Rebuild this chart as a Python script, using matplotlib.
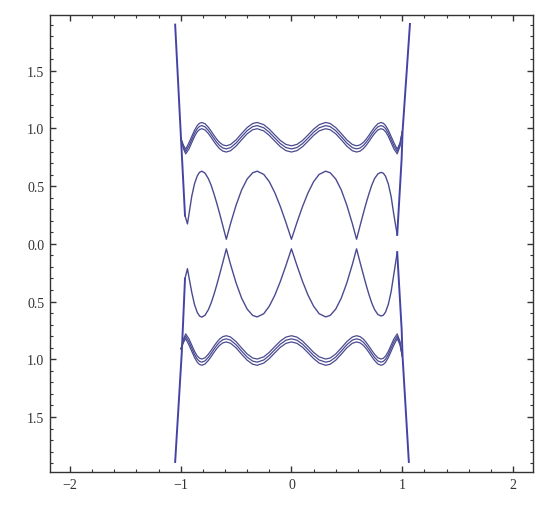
import matplotlib
matplotlib.use("Agg")
import matplotlib.pyplot as plt
from matplotlib.ticker import MultipleLocator, FixedLocator, FixedFormatter

# curve values
mid_x = [-0.961, -0.939, -0.925, -0.9, -0.875, -0.85, -0.83, -0.809, -0.78, -0.75,
         -0.725, -0.7, -0.675, -0.65, -0.62, -0.588,
         -0.55, -0.5, -0.45, -0.4, -0.35, -0.309, -0.25, -0.2, -0.15, -0.1,
         -0.05, 0.0, 0.05, 0.1, 0.15, 0.2, 0.25, 0.309, 0.35, 0.4,
         0.45, 0.5, 0.55,
         0.588, 0.62, 0.65, 0.675, 0.7, 0.725, 0.75, 0.78, 0.809, 0.83,
         0.85, 0.875, 0.9, 0.925, 0.955]
mid_up = [0.245, 0.173, 0.258, 0.413, 0.522, 0.590, 0.620, 0.630, 0.613, 0.565,
          0.508, 0.435, 0.355, 0.268, 0.159, 0.040,
          0.175, 0.335, 0.467, 0.562, 0.616, 0.630, 0.602, 0.539, 0.443, 0.323,
          0.186, 0.040, 0.186, 0.323, 0.443, 0.539, 0.602, 0.630, 0.616, 0.562,
          0.467, 0.335, 0.175,
          0.040, 0.159, 0.268, 0.355, 0.435, 0.508, 0.565, 0.606, 0.620, 0.612,
          0.585, 0.518, 0.410, 0.250, 0.078]
mid_dn = [-0.300, -0.215, -0.290, -0.420, -0.527, -0.595, -0.625, -0.635, -0.618, -0.570,
          -0.512, -0.440, -0.358, -0.270, -0.162, -0.043,
          -0.178, -0.338, -0.470, -0.565, -0.620, -0.633, -0.605, -0.540, -0.445, -0.325,
          -0.188, -0.043, -0.188, -0.325, -0.445, -0.540, -0.605, -0.633, -0.620, -0.565,
          -0.470, -0.338, -0.178,
          -0.043, -0.162, -0.270, -0.358, -0.440, -0.512, -0.568, -0.612, -0.625, -0.618,
          -0.590, -0.523, -0.415, -0.260, -0.072]

# steep branches near x = +-1
left_up_x = [-1.05, -0.997, -0.961]
left_up_y = [1.90, 0.91, 0.245]
right_up_x = [0.955, 0.995, 1.003, 1.07]
right_up_y = [0.078, 0.74, 0.97, 1.906]
left_dn_x = [-1.05, -0.99, -0.961]
left_dn_y = [-1.89, -0.94, -0.30]
right_dn_x = [0.955, 0.995, 1.003, 1.06]
right_dn_y = [-0.072, -0.74, -0.97, -1.89]

# the wavy bands of three close lines
band_x = [-0.997, -0.975, -0.955, -0.925, -0.9, -0.875, -0.85, -0.83, -0.809, -0.78,
          -0.75, -0.725, -0.7, -0.675, -0.65, -0.62, -0.588,
          -0.55, -0.5, -0.45, -0.4, -0.35, -0.309, -0.25, -0.2, -0.15, -0.1,
          -0.05, 0.0, 0.05, 0.1, 0.15, 0.2, 0.25, 0.309, 0.35, 0.4,
          0.45, 0.5, 0.55,
          0.588, 0.62, 0.65, 0.675, 0.7, 0.725, 0.75, 0.78, 0.809, 0.83,
          0.85, 0.875, 0.9, 0.925, 0.955, 0.98, 1.0]
band_hi_up = [0.91, 0.855, 0.82, 0.877, 0.931, 0.985, 1.026, 1.045, 1.052, 1.041,
              1.010, 0.977, 0.941, 0.908, 0.880, 0.858, 0.850,
              0.861, 0.901, 0.956, 1.008, 1.043, 1.052, 1.033, 0.994, 0.944, 0.896,
              0.862, 0.850, 0.862, 0.896, 0.944, 0.994, 1.033, 1.052, 1.043, 1.008,
              0.956, 0.901, 0.861,
              0.850, 0.858, 0.880, 0.908, 0.941, 0.977, 1.010, 1.041, 1.052, 1.045,
              1.026, 0.985, 0.931, 0.877, 0.82, 0.875, 0.97]
band_mid_up = [0.91, 0.84, 0.80, 0.850, 0.904, 0.958, 0.999, 1.018, 1.025, 1.014,
               0.983, 0.950, 0.914, 0.881, 0.853, 0.831, 0.823,
               0.834, 0.874, 0.929, 0.981, 1.016, 1.025, 1.006, 0.967, 0.917, 0.869,
               0.835, 0.823, 0.835, 0.869, 0.917, 0.967, 1.006, 1.025, 1.016, 0.981,
               0.929, 0.874, 0.834,
               0.823, 0.831, 0.853, 0.881, 0.914, 0.950, 0.983, 1.014, 1.025, 1.018,
               0.999, 0.958, 0.904, 0.850, 0.80, 0.86, 0.97]
band_lo_up = [0.91, 0.825, 0.78, 0.823, 0.877, 0.931, 0.972, 0.991, 0.998, 0.987,
              0.956, 0.923, 0.887, 0.854, 0.826, 0.804, 0.796,
              0.807, 0.847, 0.902, 0.954, 0.989, 0.998, 0.979, 0.940, 0.890, 0.842,
              0.808, 0.796, 0.808, 0.842, 0.890, 0.940, 0.979, 0.998, 0.989, 0.954,
              0.902, 0.847, 0.807,
              0.796, 0.804, 0.826, 0.854, 0.887, 0.923, 0.956, 0.987, 0.998, 0.991,
              0.972, 0.931, 0.877, 0.823, 0.78, 0.845, 0.97]
band_hi_dn = [-0.91, -0.855, -0.82, -0.877, -0.931, -0.985, -1.026, -1.045, -1.052, -1.041,
              -1.010, -0.977, -0.941, -0.908, -0.880, -0.858, -0.850,
              -0.861, -0.901, -0.956, -1.008, -1.043, -1.052, -1.033, -0.994, -0.944, -0.896,
              -0.862, -0.850, -0.862, -0.896, -0.944, -0.994, -1.033, -1.052, -1.043, -1.008,
              -0.956, -0.901, -0.861,
              -0.850, -0.858, -0.880, -0.908, -0.941, -0.977, -1.010, -1.041, -1.052, -1.045,
              -1.026, -0.985, -0.931, -0.877, -0.82, -0.875, -0.97]
band_mid_dn = [-0.91, -0.84, -0.80, -0.850, -0.904, -0.958, -0.999, -1.018, -1.025, -1.014,
               -0.983, -0.950, -0.914, -0.881, -0.853, -0.831, -0.823,
               -0.834, -0.874, -0.929, -0.981, -1.016, -1.025, -1.006, -0.967, -0.917, -0.869,
               -0.835, -0.823, -0.835, -0.869, -0.917, -0.967, -1.006, -1.025, -1.016, -0.981,
               -0.929, -0.874, -0.834,
               -0.823, -0.831, -0.853, -0.881, -0.914, -0.950, -0.983, -1.014, -1.025, -1.018,
               -0.999, -0.958, -0.904, -0.850, -0.80, -0.86, -0.97]
band_lo_dn = [-0.91, -0.825, -0.78, -0.823, -0.877, -0.931, -0.972, -0.991, -0.998, -0.987,
              -0.956, -0.923, -0.887, -0.854, -0.826, -0.804, -0.796,
              -0.807, -0.847, -0.902, -0.954, -0.989, -0.998, -0.979, -0.940, -0.890, -0.842,
              -0.808, -0.796, -0.808, -0.842, -0.890, -0.940, -0.979, -0.998, -0.989, -0.954,
              -0.902, -0.847, -0.807,
              -0.796, -0.804, -0.826, -0.854, -0.887, -0.923, -0.956, -0.987, -0.998, -0.991,
              -0.972, -0.931, -0.877, -0.823, -0.78, -0.845, -0.97]

x_ticks = [-2, -1, 0, 1, 2]
x_labels = ['\u22122', '\u22121', '0', '1', '2']
y_ticks = [-1.5, -1.0, -0.5, 0.0, 0.5, 1.0, 1.5]
y_labels = ['1.5', '1.0', '0.5', '0.0', '0.5', '1.0', '1.5']

line_color = '#4a4a90'
plt.rcParams['font.family'] = ['Liberation Serif', 'DejaVu Serif']

fig = plt.figure(figsize=(5.5, 5.06), dpi=100)
ax = fig.add_axes([0.0909, 0.0652, 0.878, 0.904])

ax.plot(mid_x, mid_up, color=line_color, lw=1.0)
ax.plot(mid_x, mid_dn, color=line_color, lw=1.0)
for xs, ys in [(left_up_x, left_up_y), (right_up_x, right_up_y),
               (left_dn_x, left_dn_y), (right_dn_x, right_dn_y)]:
    ax.plot(xs, ys, color='#4444a6', lw=1.4)
for ys in [band_hi_up, band_mid_up, band_lo_up, band_hi_dn, band_mid_dn, band_lo_dn]:
    ax.plot(band_x, ys, color=line_color, lw=0.9)

ax.set_xlim(-2.18, 2.18)
ax.set_ylim(-1.977, 1.987)

ax.xaxis.set_major_locator(FixedLocator(x_ticks))
ax.xaxis.set_major_formatter(FixedFormatter(x_labels))
ax.yaxis.set_major_locator(FixedLocator(y_ticks))
ax.yaxis.set_major_formatter(FixedFormatter(y_labels))
ax.xaxis.set_minor_locator(MultipleLocator(0.2))
ax.yaxis.set_minor_locator(MultipleLocator(0.1))

ax.tick_params(which='both', direction='in', top=True, right=True,
               colors='#333333', labelsize=10, pad=4)
ax.tick_params(which='major', length=4.5, width=1.0)
ax.tick_params(which='minor', length=2.5, width=0.8)
for s in ax.spines.values():
    s.set_color('#333333')
    s.set_linewidth(1.0)

fig.savefig('out.png', dpi=100)
